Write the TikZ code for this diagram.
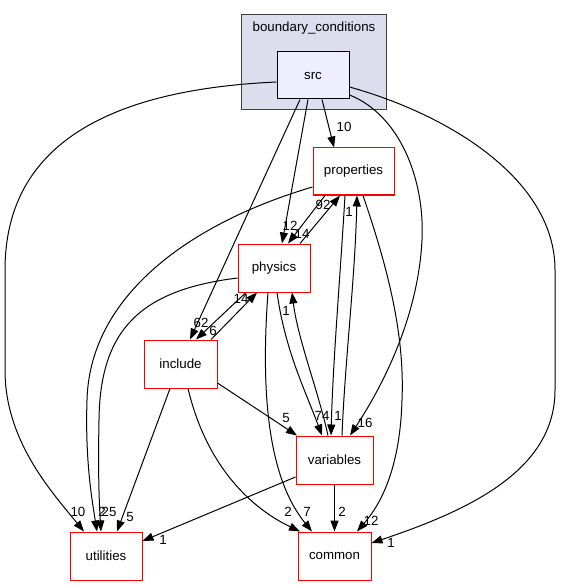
\documentclass[tikz,border=0pt]{standalone}
\usepackage{fontspec}
\setmainfont{Liberation Sans}
\usetikzlibrary{arrows.meta}
\definecolor{clusterfill}{HTML}{DDDDEE}
\definecolor{srcfill}{HTML}{EEEEFF}

\begin{document}
\begin{tikzpicture}[x=1pt,y=-1pt,
    every node/.style={font=\fontsize{13.3}{16}\selectfont},
    dirbox/.style={draw=red,line width=1pt,fill=white,minimum height=48pt,inner sep=0pt},
    dep/.style={-{Triangle[length=11pt,width=8pt]},line width=1pt},
    num/.style={inner sep=0pt}]
    \useasboundingbox (0,0) rectangle (560,585);
    % cluster and its directory
    \node[draw=black!75,fill=clusterfill,line width=1pt,minimum width=145pt,minimum height=95pt] (bc) at (313.5,62.5) {};
    \node (bclabel) at (314,28) {boundary\_conditions};
    \node[draw=black,fill=srcfill,line width=1pt,minimum width=72pt,minimum height=47pt] (src) at (313,75.5) {src};
    % the other directories
    \node[dirbox,minimum width=81pt,minimum height=47pt] (properties) at (353.5,171.5) {properties};
    \node[dirbox,minimum width=72pt] (physics) at (274,268) {physics};
    \node[dirbox,minimum width=73pt] (include) at (180.5,364) {include};
    \node[dirbox,minimum width=77pt] (variables) at (334.5,460) {variables};
    \node[dirbox,minimum width=72pt] (utilities) at (106,556) {utilities};
    \node[dirbox,minimum width=73pt] (common) at (334.5,556) {common};
    % dependencies of src
    \draw[dep] ([yshift=-6.5pt]src.west) .. controls (100,90) and (5,150) .. (5,270) -- (5,370) .. controls (5,440) and (50,490) .. ([xshift=-22pt]utilities.north) node[num] at (78,512) {10};
    \draw[dep] ([xshift=-13pt]src.south) -- ([xshift=9.5pt]include.north) node[num] at (201,323) {62};
    \draw[dep] ([xshift=-5pt]src.south) -- ([xshift=8pt]physics.north) node[num] at (290,226) {12};
    \draw[dep] ([xshift=9pt]src.south) -- ([xshift=-19.5pt]properties.north) node[num] at (344,127) {10};
    \draw[dep] ([yshift=-19.5pt]src.east) .. controls (400,115) and (425,180) .. (422,240) .. controls (418,320) and (380,390) .. ([xshift=15.5pt]variables.north) node[num] at (365,423) {16};
    \draw[dep] ([yshift=-11.5pt]src.east) .. controls (450,115) and (555,180) .. (555,270) -- (555,390) .. controls (555,470) and (470,510) .. ([yshift=13pt]common.east) node[num] at (391,543) {1};
    % properties
    \draw[dep] ([xshift=-28.5pt]properties.south) -- ([xshift=14pt]physics.north) node[num] at (302,234) {14};
    \draw[dep] ([yshift=-15.5pt]properties.west) .. controls (200,220) and (90,290) .. (87,400) .. controls (85,460) and (92,500) .. ([xshift=-9pt]utilities.north) node[num] at (102,512) {2};
    \draw[dep] ([xshift=-8.5pt]properties.south) .. controls (340,280) and (333,360) .. ([xshift=-3.5pt]variables.north) node[num] at (338,416) {1};
    \draw[dep] ([xshift=9.5pt]properties.south) .. controls (385,260) and (405,330) .. (402,400) .. controls (400,470) and (380,505) .. ([xshift=22.5pt]common.north) node[num] at (371,521) {12};
    % physics
    \draw[dep] ([xshift=26pt]physics.north) -- ([xshift=-13.5pt]properties.south) node[num] at (323,205) {92};
    \draw[dep] ([yshift=-10pt]physics.west) .. controls (140,290) and (100,330) .. (99,420) .. controls (98,470) and (99,500) .. ([xshift=-5pt]utilities.north) node[num] at (109,512) {25};
    \draw[dep] ([xshift=-28pt]physics.south) -- ([xshift=15.5pt]include.north) node[num] at (213,331) {6};
    \draw[dep] ([xshift=3pt]physics.south) .. controls (285,350) and (305,390) .. ([xshift=-12.5pt]variables.north) node[num] at (322,416) {74};
    \draw[dep] ([xshift=-6pt]physics.south) .. controls (260,400) and (270,480) .. ([xshift=-22.5pt]common.north) node[num] at (307,512) {7};
    % include
    \draw[dep] ([xshift=30.5pt]include.north) -- ([xshift=-17pt]physics.south) node[num] at (241,299) {14};
    \draw[dep] ([yshift=-19pt]include.east) -- ([xshift=-37.5pt]variables.north) node[num] at (286,418) {5};
    \draw[dep] ([xshift=-10.5pt]include.south) -- ([xshift=11pt]utilities.north) node[num] at (130,517) {5};
    \draw[dep] ([xshift=7.5pt]include.south) .. controls (205,460) and (245,505) .. ([xshift=-34.5pt]common.north) node[num] at (288,512) {2};
    % variables
    \draw[dep] ([xshift=-6.5pt]variables.north) .. controls (318,390) and (298,340) .. ([xshift=18pt]physics.south) node[num] at (286,311) {1};
    \draw[dep] ([xshift=7.5pt]variables.north) .. controls (345,360) and (355,280) .. ([xshift=3.5pt]properties.south) node[num] at (349,212) {1};
    \draw[dep] ([yshift=-17pt]variables.west) -- ([yshift=15pt]utilities.east) node[num] at (163,540) {1};
    \draw[dep] (variables.south) -- (common.north) node[num] at (342,512) {2};
\end{tikzpicture}
\end{document}
